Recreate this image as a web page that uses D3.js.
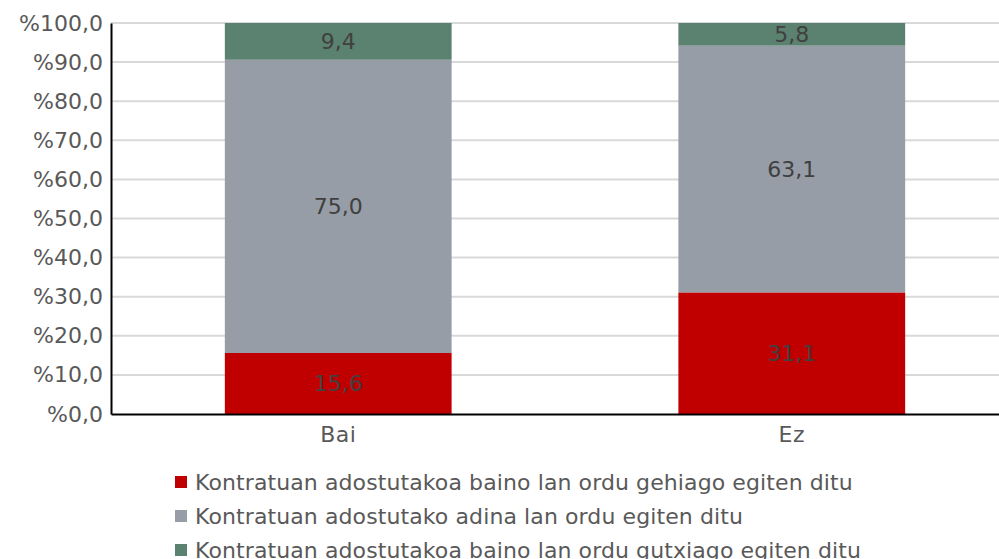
<!DOCTYPE html>
<html>
<head>
<meta charset="utf-8">
<script src="https://cdn.jsdelivr.net/npm/d3@7"></script>
<style>
  body { margin: 0; background: #fff; }
  svg { font-family: "DejaVu Sans", sans-serif; }
</style>
</head>
<body>
<svg id="chart" width="999" height="559"></svg>
<script>
const categories = ["Bai", "Ez"];
const seriesNames = [
  "Kontratuan adostutakoa baino lan ordu gehiago egiten ditu",
  "Kontratuan adostutako adina lan ordu egiten ditu",
  "Kontratuan adostutakoa baino lan ordu gutxiago egiten ditu"
];
const more = [15.6, 31.1];
const same = [75.0, 63.1];
const less = [9.4, 5.8];
const yTicks = [0, 10, 20, 30, 40, 50, 60, 70, 80, 90, 100];
const colors = ["#c00000", "#969da6", "#5b8270"];

const svg = d3.select("#chart");
const margin = {top: 23, left: 111, bottom: 145};
// plot area runs past the right edge of the picture and gets clipped
const width = 908;
const height = 559 - margin.top - margin.bottom;
const g = svg.append("g").attr("transform", "translate(" + margin.left + "," + margin.top + ")");

const rows = categories.map((c, i) => ({cat: c, more: more[i], same: same[i], less: less[i]}));
const keys = ["more", "same", "less"];
const stacked = d3.stack().keys(keys)(rows);

const x = d3.scaleBand().domain(categories).range([0, width]).paddingInner(0.5).paddingOuter(0.251);
const y = d3.scaleLinear().domain([0, 100]).range([height, 0]);
const fmt = v => d3.format(".1f")(v).replace(".", ",");

// grid
g.append("g").selectAll("line").data(yTicks.slice(1)).enter().append("line")
  .attr("x1", 0).attr("x2", width)
  .attr("y1", d => y(d)).attr("y2", d => y(d))
  .attr("stroke", "#d9d9d9").attr("stroke-width", 2);

// bars
const layer = g.selectAll("g.layer").data(stacked).enter().append("g")
  .attr("class", "layer").attr("fill", (d, i) => colors[i]);
layer.selectAll("rect").data(d => d).enter().append("rect")
  .attr("x", d => x(d.data.cat))
  .attr("y", d => y(d[1]))
  .attr("width", x.bandwidth())
  .attr("height", d => y(d[0]) - y(d[1]));
layer.selectAll("text").data(d => d).enter().append("text")
  .attr("x", d => x(d.data.cat) + x.bandwidth() / 2)
  .attr("y", d => (y(d[0]) + y(d[1])) / 2)
  .attr("dy", "0.35em")
  .attr("text-anchor", "middle")
  .attr("fill", "#404040")
  .style("font-size", "22px")
  .text(function(d) { return fmt(d[1] - d[0]); });

// y axis
const yAxis = g.append("g").call(d3.axisLeft(y).tickValues(yTicks).tickSize(0).tickPadding(8).tickFormat(d => "%" + fmt(d)));
yAxis.select(".domain").attr("stroke", "#000").attr("stroke-width", 2);
yAxis.selectAll("text").attr("fill", "#595959").style("font-size", "22px").style("font-family", "DejaVu Sans");

// x axis
const xAxis = g.append("g").attr("transform", "translate(0," + height + ")")
  .call(d3.axisBottom(x).tickSize(0).tickPadding(12));
xAxis.select(".domain").attr("stroke", "#000").attr("stroke-width", 2);
xAxis.selectAll("text").attr("fill", "#595959").style("font-size", "22px")
  .style("letter-spacing", "0.5px").style("font-family", "DejaVu Sans");

// legend
const legend = svg.append("g").attr("transform", "translate(175,482)");
const item = legend.selectAll("g").data(seriesNames).enter().append("g")
  .attr("transform", (d, i) => "translate(0," + (i * 34) + ")");
item.append("rect").attr("x", 0).attr("y", -6).attr("width", 12).attr("height", 12)
  .attr("fill", (d, i) => colors[i]);
item.append("text").attr("x", 20).attr("dy", "0.35em")
  .attr("fill", "#595959").style("font-size", "22px").style("letter-spacing", "0.1px")
  .text(d => d);
</script>
</body>
</html>
